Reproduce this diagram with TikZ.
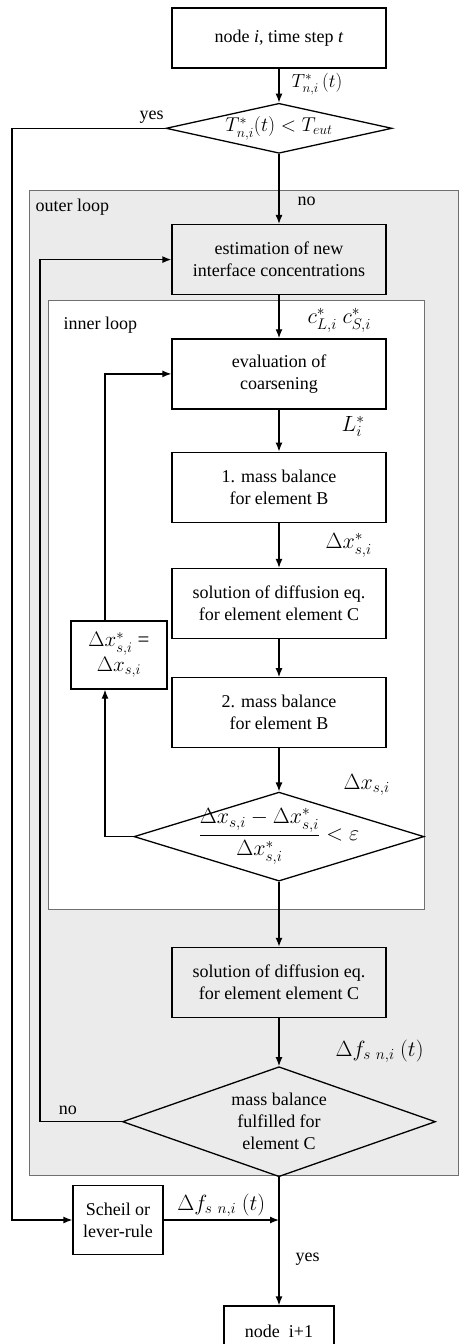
\documentclass[tikz,border=0pt]{standalone}
\usepackage{fix-cm}
\usepackage{amsmath}
\usepackage{fontspec}
\setmainfont{Liberation Serif}
\usetikzlibrary{arrows.meta, positioning, shapes.geometric}
\definecolor{cShade}{HTML}{EBEBEB}
\definecolor{cEdge}{HTML}{707070}

\begin{document}
\begin{tikzpicture}[
  x=1pt, y=-1pt,
  node distance=40pt,
  box/.style={rectangle, draw, line width=1.3pt, minimum width=214pt, minimum height=70pt, align=center, font=\fontsize{18}{22}\selectfont},
  dec/.style={diamond, draw, line width=1.3pt, inner sep=0pt},
  lab/.style={font=\fontsize{18}{22}\selectfont, inner sep=0pt},
  mlab/.style={font=\fontsize{22}{26}\selectfont, inner sep=0pt},
  loopframe/.style={draw=cEdge, line width=0.8pt},
  ->, >={Latex[length=9pt, width=7pt]}, line width=1.3pt
]
\useasboundingbox (0,0) rectangle (465,1344);

% loop frames
\draw[loopframe, fill=cShade, -] (29,190) rectangle (458,1175);
\draw[loopframe, fill=white, -] (48,300) rectangle (424,909);
\node[lab, anchor=west] (outerlab) at (35,207) {outer loop};
\node[lab, anchor=west] (innerlab) at (63,325) {inner loop};

\node[box, minimum height=60pt] (start) at (279,38) {node \textit{i}, time step \textit{t}};
\node[dec, minimum width=226pt, minimum height=50pt, below=34pt of start,
  label={[mlab, font=\fontsize{20}{24}\selectfont]center:$T^*_{n,i}(t) < T_{eut}$}] (teut) {};
\node[box, below=70pt of teut] (estim) {estimation of new\\interface concentrations};
\node[box, below=43pt of estim] (coarse) {evaluation of\\coarsening};
\node[box, below=42pt of coarse] (massB1) {1. mass balance\\for element B};
\node[box, below=45pt of massB1] (diffC1) {solution of diffusion eq.\\for element element C};
\node[box, below=38pt of diffC1] (massB2) {2. mass balance\\for element B};
\node[dec, minimum width=290pt, minimum height=89pt, below=43pt of massB2,
  label={[mlab]center:$\dfrac{\Delta x_{s,i} - \Delta x^*_{s,i}}{\Delta x^*_{s,i}} < \varepsilon$}] (conv) {};
\node[box, below=65pt of conv] (diffC2) {solution of diffusion eq.\\for element element C};
\node[dec, minimum width=313pt, minimum height=110pt, below=48pt of diffC2,
  label={[lab, align=center]center:mass balance\\fulfilled for\\element C}] (massC) {};
\node[box, minimum width=110pt, minimum height=50pt, below=128pt of massC] (next) {node\ \ i+1};
\node[box, minimum width=96pt, minimum height=68pt, font=\fontsize{21}{25}\selectfont] (upd) at (119,655) {$\Delta x^*_{s,i}$ =\\ $\Delta x_{s,i}$};
\node[box, minimum width=90pt, minimum height=69pt] (scheil) at (118,1220) {Scheil or\\lever-rule};

\coordinate (yesx) at (12,0);
\coordinate (nox) at (40,0);
\coordinate (innx) at (105,0);

\draw (start) -- node[mlab, font=\fontsize{19}{23}\selectfont, pos=0.45, right=12pt] (tlab) {$T^*_{n,i}\,(t)$} (teut);
\draw (teut) -- node[lab, pos=0.68, right=18pt] (nolab) {no} (estim);
\draw (estim) -- node[mlab, pos=0.58, right=28pt] (clab) {$c^*_{L,i}\ c^*_{S,i}$} (coarse);
\draw (coarse) -- node[mlab, pos=0.4, right=62pt] (llab) {$L^*_i$} (massB1);
\draw (massB1) -- node[mlab, pos=0.5, right=46pt] (xslab) {$\Delta x^*_{s,i}$} (diffC1);
\draw (diffC1) -- (massB2);
\draw (massB2) -- node[mlab, pos=0.85, right=64pt] (xlab) {$\Delta x_{s,i}$} (conv);
\draw (conv) -- (diffC2);
\draw (diffC2) -- node[mlab, pos=0.69, right=56pt] (flab) {$\Delta f_{s\ n,i}\ (t)$} (massC);
\draw (massC) -- node[lab, pos=0.64, right=16pt] (yeslab) {yes} (next);

% loops back
\draw (conv.west) -| (upd.south -| innx);
\draw (upd.north -| innx) |- (coarse.west);
\draw (massC.west) -- node[lab, pos=0.66, above=6pt] (nolab2) {no} (massC.west -| nox) |- (estim.west);
\draw (teut.west) -- node[lab, pos=0.09, above=4pt] (yeslab2) {yes} (teut.west -| yesx) |- (scheil.west);
\draw (scheil.east) -- node[mlab, above=3pt] (fslab) {$\Delta f_{s\ n,i}\ (t)$} (scheil.east -| next);
\end{tikzpicture}
\end{document}
